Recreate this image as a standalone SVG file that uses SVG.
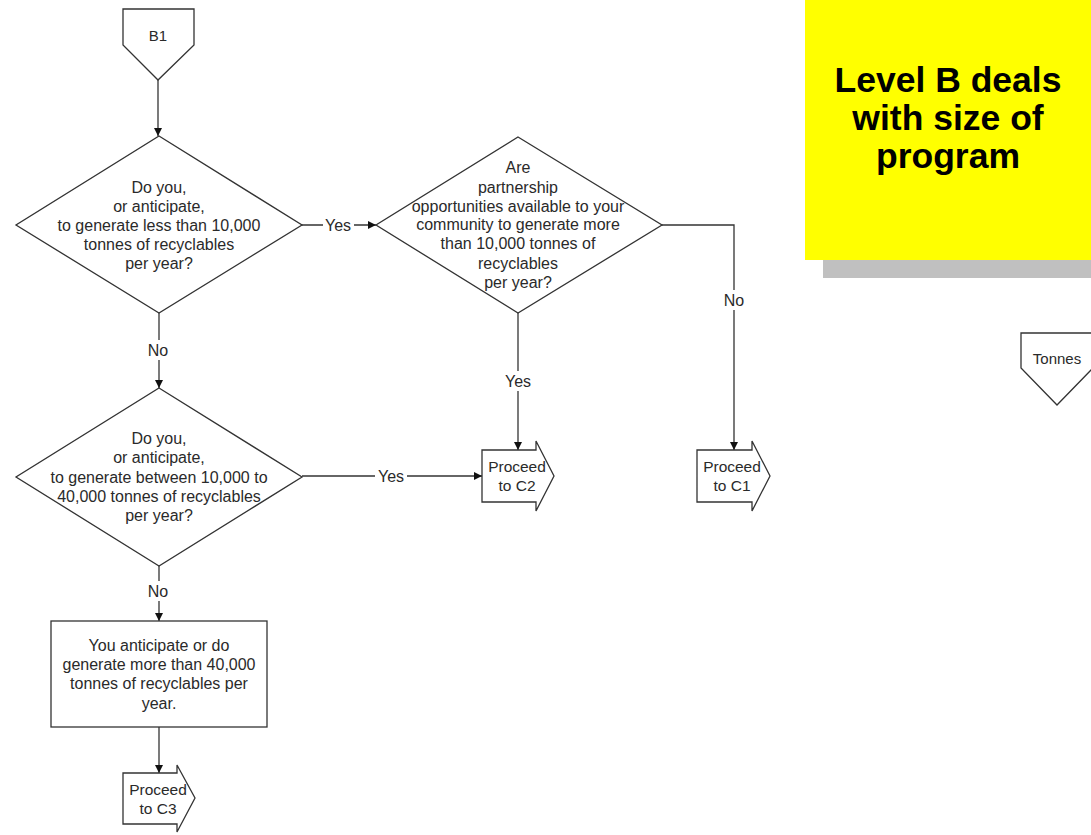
<svg xmlns="http://www.w3.org/2000/svg" width="1091" height="835" viewBox="0 0 1091 835">
  <style>
    .shape { fill: #ffffff; stroke: #333333; stroke-width: 1.3; }
    .edge { fill: none; stroke: #333333; stroke-width: 1.3; }
    .txt { font-family: "Liberation Sans", Arial, sans-serif; font-size: 16px; fill: #2a2a2a; text-anchor: middle; }
    .small { font-size: 15.5px; }
    .lbl { font-family: "Liberation Sans", Arial, sans-serif; font-size: 16px; fill: #2a2a2a; text-anchor: middle; dominant-baseline: central; }
    .title { font-family: "Liberation Sans", Arial, sans-serif; font-size: 35.5px; font-weight: bold; fill: #000000; text-anchor: middle; }
    .bg { fill: #ffffff; }
  </style>
  <defs>
    <marker id="arrow" viewBox="0 0 10 10" refX="10" refY="5" markerWidth="9" markerHeight="8" markerUnits="userSpaceOnUse" orient="auto">
      <path d="M0,0 L10,5 L0,10 z" fill="#111111"/>
    </marker>
  </defs>

  <rect width="1091" height="835" fill="#ffffff"/>

  <!-- Title note -->
  <g id="note">
    <rect x="823" y="18" width="268" height="260" fill="#c0c0c0"/>
    <rect x="805" y="0" width="286" height="260" fill="#ffff00"/>
    <text class="title" x="948" y="92">Level B deals</text>
    <text class="title" x="948" y="130">with size of</text>
    <text class="title" x="948" y="168">program</text>
  </g>

  <!-- Connectors -->
  <g id="connectors">
    <line class="edge" x1="158" y1="80" x2="158" y2="136" marker-end="url(#arrow)"/>

    <line class="edge" x1="302" y1="225" x2="376" y2="225" marker-end="url(#arrow)"/>
    <rect class="bg" x="323" y="216" width="31" height="18"/>
    <text class="lbl" x="338" y="225">Yes</text>

    <polyline class="edge" points="662,225 734,225 734,450" marker-end="url(#arrow)"/>
    <rect class="bg" x="722" y="290" width="24" height="20"/>
    <text class="lbl" x="734" y="300">No</text>

    <line class="edge" x1="518" y1="313" x2="518" y2="450" marker-end="url(#arrow)"/>
    <rect class="bg" x="502" y="371" width="32" height="20"/>
    <text class="lbl" x="518" y="381">Yes</text>

    <line class="edge" x1="159" y1="313" x2="159" y2="388" marker-end="url(#arrow)"/>
    <rect class="bg" x="146" y="340" width="24" height="20"/>
    <text class="lbl" x="158" y="350">No</text>

    <line class="edge" x1="302" y1="476" x2="482" y2="476" marker-end="url(#arrow)"/>
    <rect class="bg" x="375" y="467" width="32" height="18"/>
    <text class="lbl" x="391" y="476">Yes</text>

    <line class="edge" x1="159" y1="566" x2="159" y2="621" marker-end="url(#arrow)"/>
    <rect class="bg" x="146" y="581" width="24" height="20"/>
    <text class="lbl" x="158" y="591">No</text>

    <line class="edge" x1="159" y1="727" x2="159" y2="773" marker-end="url(#arrow)"/>
  </g>

  <!-- Off-page connector B1 -->
  <g id="b1">
    <polygon class="shape" points="123,9 194,9 194,45 158,80 123,45"/>
    <text class="txt" x="158" y="41" style="font-size:15px">B1</text>
  </g>

  <!-- Decision: less than 10,000 -->
  <g id="decision-small">
    <polygon class="shape" points="159,136 302,225 159,313 16,225"/>
    <text class="txt" x="159" y="193">Do you,</text>
    <text class="txt" x="159" y="212">or anticipate,</text>
    <text class="txt" x="159" y="231">to generate less than 10,000</text>
    <text class="txt" x="159" y="250">tonnes of recyclables</text>
    <text class="txt" x="159" y="269">per year?</text>
  </g>

  <!-- Decision: partnership -->
  <g id="decision-partnership">
    <polygon class="shape" points="518,137 662,225 518,313 376,225"/>
    <text class="txt" x="518" y="173">Are</text>
    <text class="txt" x="518" y="193">partnership</text>
    <text class="txt" x="518" y="212">opportunities available to your</text>
    <text class="txt" x="518" y="230">community to generate more</text>
    <text class="txt" x="518" y="249">than 10,000 tonnes of</text>
    <text class="txt" x="518" y="269">recyclables</text>
    <text class="txt" x="518" y="288">per year?</text>
  </g>

  <!-- Decision: 10,000 to 40,000 -->
  <g id="decision-medium">
    <polygon class="shape" points="159,388 302,477 159,566 16,477"/>
    <text class="txt" x="159" y="444">Do you,</text>
    <text class="txt" x="159" y="463">or anticipate,</text>
    <text class="txt" x="159" y="483">to generate between 10,000 to</text>
    <text class="txt" x="159" y="502">40,000 tonnes of recyclables</text>
    <text class="txt" x="159" y="521">per year?</text>
  </g>

  <!-- Process: more than 40,000 -->
  <g id="process-large">
    <rect class="shape" x="51" y="621" width="216" height="106"/>
    <text class="txt" x="159" y="651">You anticipate or do</text>
    <text class="txt" x="159" y="670">generate more than 40,000</text>
    <text class="txt" x="159" y="689">tonnes of recyclables per</text>
    <text class="txt" x="159" y="709">year.</text>
  </g>

  <!-- Proceed to C2 -->
  <g id="proceed-c2">
    <polygon class="shape" points="482,450 536,450 536,441 554,476 536,511 536,502 482,502"/>
    <text class="txt small" x="517" y="472">Proceed</text>
    <text class="txt small" x="517" y="491">to C2</text>
  </g>

  <!-- Proceed to C1 -->
  <g id="proceed-c1">
    <polygon class="shape" points="697,450 752,450 752,441 770,476 752,511 752,502 697,502"/>
    <text class="txt small" x="732" y="472">Proceed</text>
    <text class="txt small" x="732" y="491">to C1</text>
  </g>

  <!-- Proceed to C3 -->
  <g id="proceed-c3">
    <polygon class="shape" points="123,773 177,773 177,765 195,798 177,832 177,824 123,824"/>
    <text class="txt small" x="158" y="795">Proceed</text>
    <text class="txt small" x="158" y="814">to C3</text>
  </g>

  <!-- Off-page connector Tonnes -->
  <g id="tonnes">
    <polygon class="shape" points="1021,333 1093,333 1093,368 1057,405 1021,368"/>
    <text class="txt" x="1057" y="364" style="font-size:15px">Tonnes</text>
  </g>
</svg>
